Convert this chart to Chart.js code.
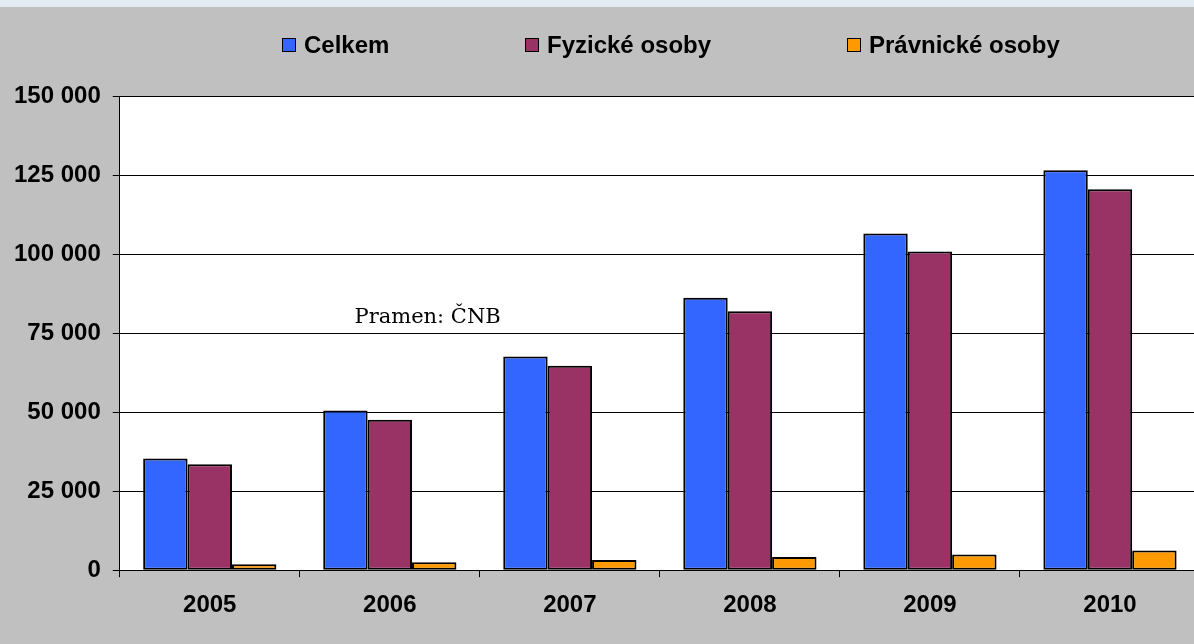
<!DOCTYPE html>
<html>
<head>
<meta charset="utf-8">
<script src="https://cdn.jsdelivr.net/npm/chart.js@4/dist/chart.umd.min.js"></script>
<style>
  html, body { margin: 0; padding: 0; background: #c0c0c0; overflow: hidden; width: 1194px; height: 644px; }
  #strip { position: absolute; left: 0; top: 0; width: 1194px; height: 7px; background: #e4ebf3; z-index: 2; }
  #wrap { position: absolute; left: 0; top: 0; width: 1200px; height: 644px; }
  #legend { position: absolute; left: 0; top: 0; width: 1194px; height: 80px; z-index: 3;
            font-family: "Liberation Sans", Arial, sans-serif; font-weight: bold; font-size: 24px; color: #000; }
  .li { position: absolute; top: 31px; height: 28px; display: flex; align-items: center; white-space: nowrap; }
  .sw { width: 12px; height: 12px; border: 1px solid #000; margin-right: 8px; box-sizing: content-box; }
</style>
</head>
<body>
<div id="strip"></div>
<div id="legend"></div>
<div id="wrap"><canvas id="c"></canvas></div>
<script>
// ---- data ----
const categories = ['2005', '2006', '2007', '2008', '2009', '2010'];
const seriesNames = ['Celkem', 'Fyzické osoby', 'Právnické osoby'];
const celkem = [35300, 50500, 67600, 86200, 106500, 126500];
const fyzicke = [33500, 47600, 64700, 81900, 100800, 120500];
const pravnicke = [1900, 2500, 3200, 4200, 5000, 6200];
const yTicks = [0, 25000, 50000, 75000, 100000, 125000, 150000];
const yTickLabels = ['0', '25 000', '50 000', '75 000', '100 000', '125 000', '150 000'];
const noteText = 'Pramen: ČNB';

// ---- styles ----
const colors = ['#3366ff', '#993366', '#ff9900'];
const legendLeft = [282, 525, 847];
const FONT = '"Liberation Sans", Arial, sans-serif';

const plotBg = {
  id: 'plotBg',
  beforeDraw(chart) {
    const { ctx, chartArea: a } = chart;
    ctx.save();
    ctx.fillStyle = '#ffffff';
    ctx.fillRect(a.left, a.top, a.right - a.left, a.bottom - a.top);
    ctx.restore();
  }
};

const note = {
  id: 'note',
  afterDatasetsDraw(chart) {
    const { ctx, scales } = chart;
    const x = scales.x.getPixelForValue(1.21);
    const y = scales.y.getPixelForValue(78300);
    ctx.save();
    ctx.font = '21px "DejaVu Serif", serif';
    ctx.fillStyle = '#000';
    ctx.textAlign = 'center';
    ctx.textBaseline = 'alphabetic';
    ctx.fillText(noteText, x, y);
    ctx.restore();
  }
};

const chart = new Chart(document.getElementById('c'), {
  type: 'bar',
  data: {
    labels: categories,
    datasets: [celkem, fyzicke, pravnicke].map((d, i) => ({
      label: seriesNames[i],
      data: d,
      backgroundColor: colors[i],
      borderColor: '#000000',
      borderWidth: 2,
      borderSkipped: false,
      barPercentage: 1.0,
      categoryPercentage: 0.74
    }))
  },
  options: {
    responsive: true,
    maintainAspectRatio: false,
    animation: false,
    layout: { padding: { left: 2, top: 96, right: 0, bottom: 10 } },
    plugins: {
      legend: { display: false },
      tooltip: { enabled: false }
    },
    scales: {
      x: {
        grid: { display: true, drawOnChartArea: false, drawTicks: true, tickLength: 7, color: '#000', offset: true },
        border: { display: true, color: '#000', width: 1 },
        ticks: { color: '#000', font: { family: FONT, size: 24, weight: 'bold' }, padding: 14 }
      },
      y: {
        min: 0,
        max: 150000,
        afterBuildTicks(scale) { scale.ticks = yTicks.map(v => ({ value: v })); },
        grid: { color: '#000', lineWidth: 1, tickLength: 7, drawTicks: true },
        border: { display: true, color: '#000', width: 1 },
        ticks: {
          color: '#000',
          font: { family: FONT, size: 24, weight: 'bold' },
          padding: 12,
          callback(v) { const i = yTicks.indexOf(v); return i >= 0 ? yTickLabels[i] : ''; }
        }
      }
    }
  },
  plugins: [plotBg, note]
});

// HTML legend built from the chart's datasets
const legendEl = document.getElementById('legend');
chart.data.datasets.forEach((ds, i) => {
  const item = document.createElement('div');
  item.className = 'li';
  item.style.left = legendLeft[i] + 'px';
  const sw = document.createElement('span');
  sw.className = 'sw';
  sw.style.background = ds.backgroundColor;
  const tx = document.createElement('span');
  tx.textContent = ds.label;
  item.appendChild(sw);
  item.appendChild(tx);
  legendEl.appendChild(item);
});
</script>
</body>
</html>
